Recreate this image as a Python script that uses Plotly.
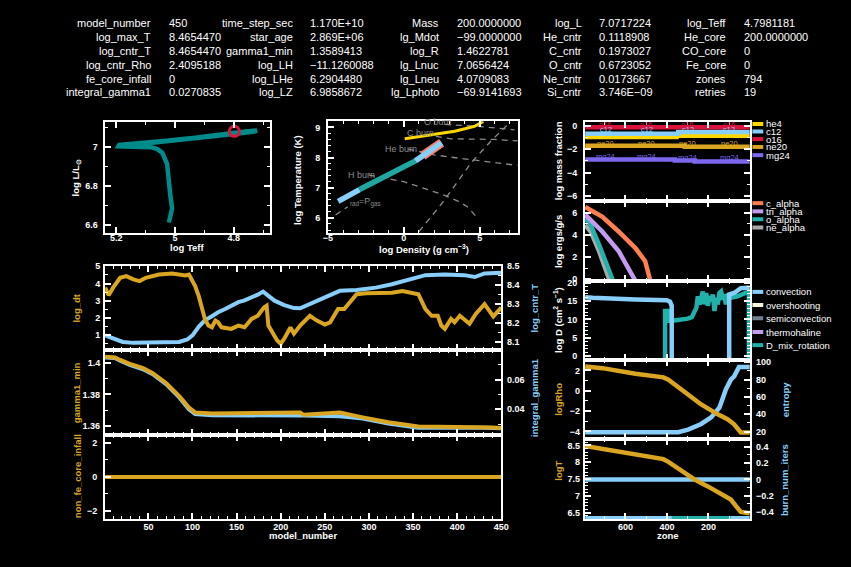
import plotly.graph_objects as go

W, H = 851, 567
FONT = "Liberation Sans"
ORANGE = "#DAA520"
BLUE = "#87CEFA"
TEAL = "#008B8B"
GRAY = "#8C8C8C"

# ---------------- header text ----------------
hdr_names = [
    ["model_number", "log_max_T", "log_cntr_T", "log_cntr_Rho", "fe_core_infall", "integral_gamma1"],
    ["time_step_sec", "star_age", "gamma1_min", "log_LH", "log_LHe", "log_LZ"],
    ["Mass", "lg_Mdot", "log_R", "lg_Lnuc", "lg_Lneu", "lg_Lphoto"],
    ["log_L", "He_cntr", "C_cntr", "O_cntr", "Ne_cntr", "Si_cntr"],
    ["log_Teff", "He_core", "CO_core", "Fe_core", "zones", "retries"],
]
hdr_vals = [
    ["450", "8.4654470", "8.4654470", "2.4095188", "0", "0.0270835"],
    ["1.170E+10", "2.869E+06", "1.3589413", "\u221211.1260088", "6.2904480", "6.9858672"],
    ["200.0000000", "\u221299.0000000", "1.4622781", "7.0656424", "4.0709083", "\u221269.9141693"],
    ["7.0717224", "0.1118908", "0.1973027", "0.6723052", "0.0173667", "3.746E\u221209"],
    ["4.7981181", "200.0000000", "0", "0", "794", "19"],
]

# ---------------- HR diagram ----------------
hr_logTeff = [5.021, 5.015, 5.010, 5.016, 5.021, 5.027, 5.043, 5.060, 5.082, 5.140, 5.193,
              5.190, 5.150, 5.099, 5.030, 4.932, 4.870, 4.804, 4.760, 4.721,
              4.730, 4.800, 4.880, 4.960, 5.050, 5.120, 5.180]
hr_logL = [6.612, 6.650, 6.684, 6.750, 6.820, 6.913, 6.970, 6.990, 7.000, 7.002, 7.004,
           7.012, 7.016, 7.024, 7.033, 7.048, 7.062, 7.074, 7.081, 7.086,
           7.080, 7.068, 7.055, 7.040, 7.026, 7.012, 7.006]
hr_now_Teff = [4.7981]
hr_now_L = [7.0817]

# ---------------- T-Rho diagram ----------------
trho_rho_outer = [-4.33, -3.6, -2.92]
trho_T_outer = [6.55, 6.75, 6.94]
trho_rho_mid = [-2.92, -1.5, 0.0, 0.76]
trho_T_mid = [6.94, 7.32, 7.70, 7.89]
trho_rho_core = [0.76, 1.6, 2.49]
trho_T_core = [7.89, 8.20, 8.49]
trho_rho_burn = [1.25, 1.9, 2.49]
trho_T_burn = [8.06, 8.29, 8.49]
trho_rho_hist = [0.06, 1.62, 3.36, 4.65, 5.24]
trho_T_hist = [8.62, 8.73, 8.87, 9.03, 9.20]

hburn_rho = [-2.3, -1.0, 0.0, 0.8, 1.7, 2.7, 3.6, 4.25, 4.75, 4.9]
hburn_T = [7.42, 7.30, 7.20, 7.07, 6.93, 6.75, 6.55, 6.35, 6.05, 5.95]
heburn_rho = [0.3, 1.0, 2.0, 3.0, 4.0, 5.0, 6.0, 7.5]
heburn_T = [8.28, 8.20, 8.09, 8.02, 7.96, 7.90, 7.85, 7.74]
cburn_rho = [1.4, 3.1, 4.9, 6.0, 7.5]
cburn_T = [8.76, 8.62, 8.61, 8.60, 8.55]
oburn_rho = [2.7, 4.9, 7.3]
oburn_T = [9.10, 9.03, 8.92]
degen_rho = [1.0, 2.49, 3.36, 4.44, 5.73, 6.9]
degen_T = [5.55, 6.47, 7.07, 7.83, 8.54, 9.12]
radgas_rho = [-4.5, -3.7]
radgas_T = [6.10, 6.37]
trho_labels = ["H burn", "He burn", "C burn", "O burn", "<sub>rad</sub>=P<sub>gas</sub>"]
trho_label_rho = [-3.8, -1.4, 0.06, 1.2, -3.7]
trho_label_T = [7.43, 8.29, 8.81, 9.17, 6.53]

# ---------------- history panels ----------------
hist_model_dt = [1, 5, 10, 18, 25, 33, 40, 47, 62, 77, 92, 96, 103, 107, 111, 114, 118, 122, 126, 129,
                 133, 144, 152, 159, 167, 174, 181, 184, 186, 189, 196, 200, 204, 211, 215, 222, 233, 241, 250, 256,
                 265, 272, 286, 297, 312, 326, 338, 349, 356, 364, 371, 378, 382, 386, 393, 397, 403, 414, 421, 431,
                 441, 450]
log_dt = [3.76, 3.32, 3.76, 4.33, 4.43, 4.24, 4.14, 4.33, 4.52, 4.58, 4.47, 4.52, 3.85, 3.28, 2.52, 1.95, 1.56, 1.46, 1.85, 1.75,
          1.46, 1.37, 1.56, 1.46, 1.95, 2.13, 2.61, 2.71, 1.56, 1.28, 0.70, 0.51, 0.80, 1.45, 1.09, 1.56, 2.13, 1.85, 1.62, 1.75,
          2.52, 2.52, 3.38, 3.43, 3.47, 3.47, 3.57, 3.43, 3.38, 2.52, 2.13, 2.13, 1.56, 1.37, 1.95, 1.75, 2.13, 1.66, 2.23, 2.80,
          2.09, 2.61]
hist_model_T = [1, 10, 21, 33, 70, 85, 94, 100, 107, 114, 122, 129, 137, 144, 152, 159, 167, 174, 180, 185,
                193, 204, 215, 222, 237, 252, 267, 286, 308, 326, 349, 364, 386, 408, 420, 431, 450]
log_cntr_T = [8.135, 8.118, 8.100, 8.095, 8.095, 8.100, 8.113, 8.135, 8.180, 8.214, 8.236, 8.257, 8.274, 8.290, 8.310,
              8.320, 8.335, 8.350, 8.366, 8.347, 8.318, 8.295, 8.279, 8.278, 8.310, 8.340, 8.370, 8.375, 8.387, 8.405,
              8.434, 8.453, 8.457, 8.453, 8.443, 8.462, 8.466]
hist_model_g1 = [1, 12, 18, 29, 44, 55, 70, 85, 96, 103, 122, 200, 222, 226, 250, 267, 293, 322, 356, 431, 440, 450]
gamma1_min = [1.4037, 1.4033, 1.4017, 1.3992, 1.3965, 1.3934, 1.3872, 1.3789, 1.3718, 1.3687, 1.3680, 1.3682,
              1.3687, 1.3672, 1.3680, 1.3687, 1.3656, 1.3625, 1.3598, 1.3598, 1.3592, 1.3589]
hist_model_ig = [1, 12, 18, 29, 44, 55, 70, 85, 96, 103, 122, 200, 226, 267, 293, 322, 356, 431, 450]
integral_gamma1 = [0.0750, 0.0747, 0.0729, 0.0700, 0.0670, 0.0637, 0.0570, 0.0480, 0.0400, 0.0367, 0.0360,
                   0.0362, 0.0357, 0.0353, 0.0337, 0.0303, 0.0275, 0.0275, 0.0271]
hist_model_fe = [1, 450]
fe_core_infall = [0, 0]

# ---------------- profile panels ----------------
abund_names = ["he4", "c12", "o16", "ne20", "mg24"]
abund_colors = ["#FFD700", BLUE, "#DC143C", ORANGE, "#7B68EE"]
abund_zones = [[794, 354, 1], [794, 346, 1], [794, 1], [794, 314, 1], [794, 362, 266, 1]]
abund_logX = [[-0.98, -0.87, -0.87], [-0.70, -0.56, -0.56], [-0.15, -0.15], [-1.71, -1.80, -1.80],
              [-2.89, -2.97, -3.06, -3.06]]
abund_label_zones = [695, 497, 299, 100]
abund_label_names = ["o16", "c12", "ne20", "mg24"]
abund_label_colors = ["#DC143C", BLUE, ORANGE, "#7B68EE"]
abund_label_y = [[0.05, 0.05, 0.05, 0.05], [-0.37, -0.37, -0.30, -0.30],
                 [-1.49, -1.49, -1.55, -1.55], [-2.60, -2.60, -2.72, -2.72]]

burn_names = ["c_alpha", "tri_alpha", "o_alpha", "ne_alpha"]
burn_colors = ["#FF7F50", "#C39BF0", "#20B2AA", "#A9A9A9"]
burn_zones = [[794, 780, 711, 632, 552, 505, 478], [794, 775, 711, 632, 584, 552, 548],
              [794, 767, 727, 695, 660, 657], [794, 767, 727, 676, 673]]
burn_vals = [[6.51, 6.35, 5.62, 4.28, 2.80, 1.62, -0.3], [5.82, 5.47, 4.28, 2.50, 1.02, 0.0, -0.3],
             [5.47, 4.88, 3.10, 1.62, 0.0, -0.3], [4.88, 4.28, 2.50, 0.0, -0.3]]

mix_names = ["convection", "overshooting", "semiconvection", "thermohaline", "D_mix_rotation"]
mix_colors = [BLUE, "#F5F5DC", "#708090", "#C39BF0", "#20B2AA"]
conv1_zone = [794, 758, 552, 401, 385, 377, 377]
conv1_logD = [16.06, 15.9, 15.45, 15.2, 14.8, 13.7, -5]
conv2_zone = [100, 100, 76, 44, 13, 1]
conv2_logD = [-5, 16.8, 17.2, 18.5, 18.6, 18.6]
rot_zone = [409, 409, 396, 393, 372, 340, 300, 280, 262, 258, 251, 243, 235, 227, 219, 211, 203, 195, 187,
            179, 171, 163, 155, 147, 139, 131, 124, 116, 108, 92, 60, 28, 8, 5, 5]
rot_logD = [-5, 12.3, 12.3, 9.6, 9.6, 9.8, 10.2, 10.6, 12.5, 13.2, 16.3, 14.1, 15.9, 17.6, 14.1, 17.2, 13.7, 16.3,
            15.0, 16.8, 12.3, 15.9, 14.1, 17.2, 17.6, 15.4, 16.8, 14.1, 16.3, 15.9, 16.3, 17.2, 17.6, 17.6, -5]

rho_zone = [794, 711, 552, 417, 393, 314, 235, 155, 108, 76, 60, 44, 1]
logRho = [2.39, 2.23, 1.68, 1.32, 1.09, -0.2, -1.35, -2.32, -2.8, -3.3, -3.79, -4.1, -4.1]
ent_zone = [794, 346, 298, 235, 187, 147, 116, 92, 76, 60, 53, 1]
entropy = [19.3, 19.3, 22.3, 28.8, 36.4, 47.7, 68.5, 79.9, 83.6, 91.2, 94.3, 94.3]
T_zone = [794, 711, 552, 417, 393, 314, 266, 203, 139, 92, 68, 44, 1]
logT = [8.48, 8.40, 8.24, 8.09, 8.01, 7.67, 7.48, 7.28, 7.06, 6.89, 6.70, 6.52, 6.48]
iters_zone = [794, 1]
burn_num_iters = [0, 0]
strip_conv_zone = [794, 1]
strip_rot_zone = [377, 92]
strip_level = 6.35


# ---------------- helpers ----------------
def xd(a, b):
    return [a / W, b / W]


def yd(top, bot):
    return [1 - bot / H, 1 - top / H]


TICKFONT = dict(family=FONT, size=9, color="white", weight="bold")


def minor_dict(dt):
    return dict(tickmode="linear", tick0=0, dtick=dt, ticks="inside", ticklen=3,
                tickwidth=1, tickcolor="white", showgrid=False)


def axis(domain, rng, tickvals, ticktext=None, labels=True, mirror="ticks", minor=None, anchor=None,
         standoff=4, side=None):
    d = dict(domain=domain, range=rng, tickmode="array", tickvals=tickvals,
             showticklabels=labels, showline=True, linecolor="white", linewidth=2,
             mirror=mirror, ticks="inside", ticklen=6, tickwidth=1.5, tickcolor="white",
             showgrid=False, zeroline=False, tickfont=TICKFONT, ticklabelstandoff=standoff)
    if ticktext is not None:
        d["ticktext"] = ticktext
    if anchor:
        d["anchor"] = anchor
    if side:
        d["side"] = side
    if minor:
        d["minor"] = minor_dict(minor)
    return d


def overlay(over, anchor, rng, tickvals, ticktext=None, minor=None, side="right"):
    d = dict(overlaying=over, anchor=anchor, side=side, range=rng, tickmode="array",
             tickvals=tickvals, showline=False, ticks="inside", ticklen=6, tickwidth=1.5,
             tickcolor="white", showgrid=False, zeroline=False, tickfont=TICKFONT,
             ticklabelstandoff=4 if side == "left" else 2)
    if ticktext is not None:
        d["ticktext"] = ticktext
    if minor:
        d["minor"] = minor_dict(minor)
    return d


fig = go.Figure()
M = "\u2212"
XSO_TOP = -5   # x tick label standoff, top row panels
XSO_BOT = -2   # x tick label standoff, bottom panels


def line(x, y, xa, ya, color, width, dash=None, shape=None):
    ln = dict(color=color, width=width)
    if dash:
        ln["dash"] = dash
    if shape:
        ln["shape"] = shape
    fig.add_trace(go.Scatter(x=x, y=y, xaxis=xa, yaxis=ya, mode="lines", line=ln,
                             hoverinfo="skip", showlegend=False))


layout = {}
# HR
layout["xaxis"] = axis(xd(102, 269), [5.237, 4.677], [5.2, 5.0, 4.8], ["5.2", "5", "4.8"], minor=0.1,
                       anchor="y", standoff=XSO_TOP)
layout["yaxis"] = axis(yd(119, 231), [6.559, 7.128], [6.6, 6.8, 7.0], ["6.6", "6.8", "7"], minor=0.1, anchor="x")
line(hr_logTeff, hr_logL, "x", "y", TEAL, 4.5)
fig.add_trace(go.Scatter(x=hr_now_Teff, y=hr_now_L, xaxis="x", yaxis="y", mode="markers",
                         marker=dict(symbol="circle-open", size=10, color="#DC143C",
                                     line=dict(width=3, color="#DC143C")),
                         hoverinfo="skip", showlegend=False))

# T-Rho
layout["xaxis2"] = axis(xd(328, 521), [-5, 7.53], [-5, 0, 5], [M + "5", "0", "5"], minor=1, anchor="y2",
                        standoff=XSO_TOP)
layout["yaxis2"] = axis(yd(118, 231), [5.51, 9.2], [6, 7, 8, 9], mirror=True, minor=0.2, anchor="x2")
layout["yaxis3"] = overlay("y2", "x2", [5.51, 9.2], [6, 7, 8, 9], minor=0.2)
for rx, ty in [(hburn_rho, hburn_T), (heburn_rho, heburn_T), (cburn_rho, cburn_T), (oburn_rho, oburn_T),
               (degen_rho, degen_T), (radgas_rho, radgas_T)]:
    line(rx, ty, "x2", "y2", GRAY, 1.3, dash="6px,5px")
line(trho_rho_hist, trho_T_hist, "x2", "y2", "#FFD700", 3)
line(trho_rho_burn, trho_T_burn, "x2", "y2", "#FA8060", 9)
line(trho_rho_outer, trho_T_outer, "x2", "y2", BLUE, 5.5)
line(trho_rho_mid, trho_T_mid, "x2", "y2", "#20A8A0", 5.5)
line(trho_rho_core, trho_T_core, "x2", "y2", BLUE, 5.5)

# History panels (blue quantity on base right axis, orange on overlaying left axis so orange is on top)
HX = xd(101.7, 504)
HR_RANGE = [1, 450]
hist_ticks = [50, 100, 150, 200, 250, 300, 350, 400, 450]
layout["xaxis3"] = axis(HX, HR_RANGE, hist_ticks, labels=False, minor=10, anchor="y4")
layout["xaxis4"] = axis(HX, HR_RANGE, hist_ticks, labels=False, minor=10, anchor="y5")
layout["xaxis5"] = axis(HX, HR_RANGE, hist_ticks, labels=True, minor=10, anchor="y6", standoff=XSO_BOT)
layout["yaxis4"] = axis(yd(265, 350), [8.057, 8.5], [8.1, 8.2, 8.3, 8.4, 8.5], mirror=True, minor=0.05,
                        anchor="x3", side="right", standoff=2)
layout["yaxis5"] = axis(yd(350, 435.7), [0.0229, 0.08], [0.04, 0.06], mirror=True, minor=0.01,
                        anchor="x4", side="right", standoff=2)
layout["yaxis6"] = axis(yd(435.7, 521.7), [-2.5, 2.5], [-2, 0, 2], [M + "2", "0", "2"], mirror=True, minor=1,
                        anchor="x5")
layout["yaxis7"] = overlay("y4", "x3", [0.14, 5.0], [1, 2, 3, 4, 5], minor=0.5, side="left")
layout["yaxis8"] = overlay("y5", "x4", [1.3548, 1.4079], [1.36, 1.38, 1.40], ["1.36", "1.38", "1.4"],
                           minor=0.01, side="left")
layout["yaxis9"] = overlay("y6", "x5", [-2.5, 2.5], [-2, 0, 2], [M + "2", "0", "2"], minor=1)
line(hist_model_T, log_cntr_T, "x3", "y4", BLUE, 4)
line(hist_model_dt, log_dt, "x3", "y7", ORANGE, 4)
line(hist_model_ig, integral_gamma1, "x4", "y5", BLUE, 4)
line(hist_model_g1, gamma1_min, "x4", "y8", ORANGE, 4)
line(hist_model_fe, fe_core_infall, "x5", "y6", ORANGE, 4)

# Profile panels
PX = xd(589, 756.7)
PR = [795, -1]
pticks = [600, 400, 200]
for i, ya in enumerate(["y10", "y11", "y12", "y13", "y14"]):
    layout["xaxis%d" % (6 + i)] = axis(PX, PR, pticks, labels=(i == 4), minor=100, anchor=ya,
                                       standoff=XSO_BOT if i == 4 else 2)
layout["yaxis10"] = axis(yd(118.3, 199), [-6.42, 0.33], [-6, -4, -2, 0], [M + "6", M + "4", M + "2", "0"],
                         minor=1, anchor="x6")
layout["yaxis11"] = axis(yd(199, 280), [-0.18, 7.04], [0, 2, 4, 6], minor=1, anchor="x7")
layout["yaxis12"] = axis(yd(280, 360), [-1.06, 20.45], [0, 5, 10, 15, 20], minor=1, anchor="x8")
layout["yaxis13"] = axis(yd(360, 440.7), [10.9, 102.6], [20, 40, 60, 80, 100], mirror=True, minor=10,
                         anchor="x9", side="right", standoff=2)
layout["yaxis14"] = axis(yd(440.7, 521.7), [-0.49, 0.49], [-0.4, -0.2, 0, 0.2, 0.4],
                         [M + "0.4", M + "0.2", "0", "0.2", "0.4"], mirror=True, minor=0.1,
                         anchor="x10", side="right", standoff=2)
layout["yaxis15"] = overlay("y13", "x9", [-4.8, 3.04], [-4, -2, 0, 2], [M + "4", M + "2", "0", "2"],
                            minor=1, side="left")
layout["yaxis16"] = overlay("y14", "x10", [6.30, 8.675], [6.5, 7, 7.5, 8, 8.5], ["6.5", "7", "7.5", "8", "8.5"],
                            minor=0.1, side="left")

for z, v, c in zip(abund_zones, abund_logX, abund_colors):
    line(z, v, "x6", "y10", c, 4.5, shape="hv")
for z, v, c in list(zip(burn_zones, burn_vals, burn_colors))[::-1]:
    line(z, v, "x7", "y11", c, 4.5)
line(rot_zone, rot_logD, "x8", "y12", "#20B2AA", 4.5)
line(conv1_zone, conv1_logD, "x8", "y12", BLUE, 4.5)
line(conv2_zone, conv2_logD, "x8", "y12", BLUE, 4.5)
line(ent_zone, entropy, "x9", "y13", BLUE, 4.5)
line(rho_zone, logRho, "x9", "y15", ORANGE, 4.5)
line(iters_zone, burn_num_iters, "x10", "y14", BLUE, 4.5)
line(strip_conv_zone, [strip_level] * 2, "x10", "y16", BLUE, 3.5)
line(strip_rot_zone, [strip_level] * 2, "x10", "y16", "#20B2AA", 3.5)
line(T_zone, logT, "x10", "y16", ORANGE, 4.5)

# ---------------- annotations ----------------
ann = []
lab_x = [150, 295, 443, 588, 734]
val_x = [165, 308, 457, 601, 748]
row_y = [18.3, 32.4, 46.6, 60.7, 74.6, 88.7]
HF = dict(family=FONT, size=11, color="white")
for c in range(5):
    for r in range(6):
        ann.append(dict(x=lab_x[c] / W, y=1 - row_y[r] / H, xref="paper", yref="paper", text=hdr_names[c][r],
                        xanchor="right", yanchor="middle", showarrow=False, font=HF))
        ann.append(dict(x=val_x[c] / W, y=1 - row_y[r] / H, xref="paper", yref="paper", text=hdr_vals[c][r],
                        xanchor="left", yanchor="middle", showarrow=False, font=HF))

TF = dict(family=FONT, size=9.5, weight="bold")


def title(text, x, y, color="white", angle=-90):
    ann.append(dict(x=x / W, y=1 - y / H, xref="paper", yref="paper", text=text, textangle=angle,
                    xanchor="center", yanchor="middle", showarrow=False, font=dict(TF, color=color)))


title("log L/L<sub>\u2299</sub>", 72, 175)
title("log Teff", 185, 246, angle=0)
title("log Temperature (K)", 297, 177)
title("log Density (g cm<sup>\u22123</sup>)", 426, 247, angle=0)
title("log_dt", 73, 307, ORANGE)
title("gamma1_min", 73, 393, ORANGE)
title("non_fe_core_infall", 73, 478, ORANGE)
title("log_cntr_T", 538, 307, BLUE)
title("integral_gamma1", 538, 398, BLUE)
title("model_number", 303, 538, angle=0)
title("log mass fraction", 562, 158)
title("log ergs/g/s", 562, 240)
title("log D (cm<sup>2</sup> s<sup>\u22121</sup>)", 562, 319)
title("logRho", 562, 400, ORANGE)
title("logT", 562, 472, ORANGE)
title("entropy", 792, 400, BLUE)
title("burn_num_iters", 791, 482, BLUE)
title("zone", 673, 538, angle=0)

# T-Rho labels
for t, rx, ty in zip(trho_labels, trho_label_rho, trho_label_T):
    ann.append(dict(x=rx, y=ty, xref="x2", yref="y2", text=t, xanchor="left", yanchor="middle",
                    showarrow=False, font=dict(family=FONT, size=9, color=GRAY)))

# abundance line labels
for name, col, ys in zip(abund_label_names, abund_label_colors, abund_label_y):
    for z, yv in zip(abund_label_zones, ys):
        ann.append(dict(x=z, y=yv, xref="x6", yref="y10", text=name, xanchor="center", yanchor="middle",
                        showarrow=False, font=dict(family=FONT, size=7.5, color=col)))

# legends (short line + label)
shapes = []
LF = dict(family=FONT, size=9.5, color="white")


def legend(names, colors, ys):
    for n, c, yy in zip(names, colors, ys):
        shapes.append(dict(type="line", xref="paper", yref="paper", x0=759 / W, x1=770 / W,
                           y0=1 - yy / H, y1=1 - yy / H, line=dict(color=c, width=4)))
        ann.append(dict(x=771 / W, y=1 - yy / H, xref="paper", yref="paper", text=n, xanchor="left",
                        yanchor="middle", showarrow=False, font=LF))


legend(abund_names, abund_colors, [120.7, 128.3, 136.0, 144.0, 152.3])
legend(burn_names, burn_colors, [201.0, 209.3, 217.3, 225.7])
legend(mix_names, mix_colors, [291.0, 304.3, 317.7, 331.7, 345.0])

fig.update_layout(
    width=W, height=H, margin=dict(l=0, r=0, t=0, b=0), autosize=False,
    paper_bgcolor="black", plot_bgcolor="black", showlegend=False,
    annotations=ann, shapes=shapes, **layout)

fig.write_html("out.html")
